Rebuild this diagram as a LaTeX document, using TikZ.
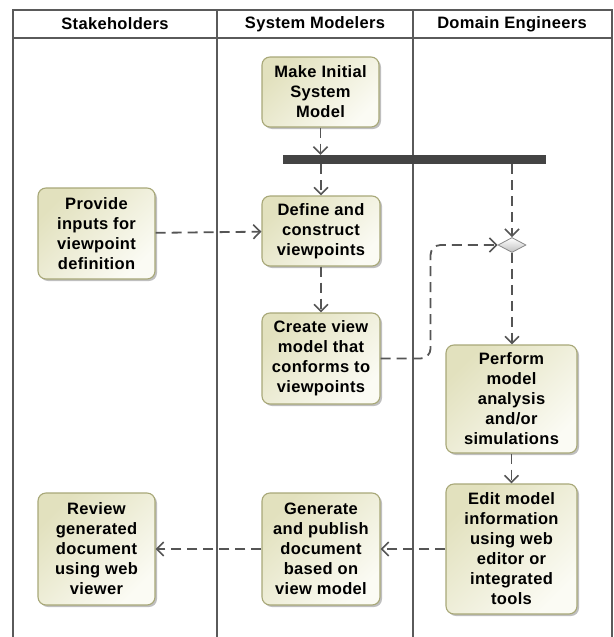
\documentclass[tikz,border=0pt]{standalone}
\usepackage{fontspec}
\setmainfont{Liberation Sans}[LetterSpace=2]
\usetikzlibrary{arrows.meta,shadows,shapes.geometric}
\definecolor{lanec}{HTML}{5A5A5A}
\definecolor{boxline}{HTML}{A8A878}
\definecolor{boxtop}{HTML}{E2E1BE}
\definecolor{boxbot}{HTML}{FBFBF4}
\definecolor{flowc}{HTML}{555555}
\definecolor{barc}{HTML}{444444}
\tikzset{
  lane/.style={draw=lanec, line width=2pt},
  lanehead/.style={font=\fontsize{16.5}{20}\selectfont\bfseries, anchor=center},
  act/.style={draw=boxline, line width=1.1pt, rounded corners=8pt,
    top color=boxtop, bottom color=boxbot, shading angle=45,
    drop shadow={shadow xshift=2pt, shadow yshift=-2pt, opacity=0.25, fill=black},
    align=center, inner sep=0pt,
    font=\fontsize{16.5}{20}\selectfont\bfseries},
  flow/.style={draw=flowc, line width=1.8pt, dash pattern=on 10pt off 6pt,
    -{Straight Barb[length=7pt,width=14pt,line width=1.6pt]}},
  forkbar/.style={fill=barc, draw=none, inner sep=0pt, minimum width=263pt, minimum height=9pt},
  decision/.style={diamond, draw=flowc!70, line width=0.8pt, top color=white, bottom color=black!25,
    inner sep=0pt, minimum width=28pt, minimum height=15pt, aspect=2}
}
\begin{document}
\begin{tikzpicture}[x=1pt, y=-1pt]
\useasboundingbox (0,0) rectangle (613,637);
\fill[white] (0,0) rectangle (613,637);
% swimlanes
\draw[lane] (13,637) -- (13,10) -- (612,10) -- (612,637);
\draw[lane] (13,38) -- (612,38);
\draw[lane] (217,10) -- (217,637);
\draw[lane] (413,10) -- (413,637);
\node[lanehead] (h1) at (115,24) {Stakeholders};
\node[lanehead] (h2) at (315,24) {System Modelers};
\node[lanehead] (h3) at (512,24) {Domain Engineers};
% activities
\node[act, minimum width=117pt, minimum height=70pt] (mk) at (320.5,92) {Make Initial\\System\\Model};
\node[forkbar] (fork) at (414.5,159.5) {};
\node[act, minimum width=118pt, minimum height=70pt] (def) at (321,231) {Define and\\construct\\viewpoints};
\node[act, minimum width=117pt, minimum height=91pt] (prov) at (96.5,233.5) {Provide\\inputs for\\viewpoint\\definition};
\node[act, minimum width=118pt, minimum height=91pt] (cre) at (321,358.5) {Create view\\model that\\conforms to\\viewpoints};
\node[decision] (dia) at (512,245) {};
\node[act, minimum width=131pt, minimum height=108pt] (perf) at (511.5,399) {Perform\\model\\analysis\\and/or\\simulations};
\node[act, minimum width=131pt, minimum height=130pt] (edit) at (511.5,549) {Edit model\\information\\using web\\editor or\\integrated\\tools};
\node[act, minimum width=118pt, minimum height=112pt] (gen) at (321,549) {Generate\\and publish\\document\\based on\\view model};
\node[act, minimum width=117pt, minimum height=112pt] (rev) at (96.5,549) {Review\\generated\\document\\using web\\viewer};
% flows
\draw[flow] (mk) -- (mk |- fork.north);
\draw[flow] (fork.south -| def) -- (def);
\draw[flow] (fork.south -| dia) -- (dia.north);
\draw[flow] (prov) -- (def);
\draw[flow] (def) -- (cre);
\draw[flow, rounded corners=10pt] (cre.east) -- ++(50,0) |- (dia.west);
\draw[flow] (dia.south) -- (dia.south |- perf.north);
\draw[flow] (perf) -- (edit);
\draw[flow] (edit) -- (gen);
\draw[flow] (gen) -- (rev);
\end{tikzpicture}
\end{document}
